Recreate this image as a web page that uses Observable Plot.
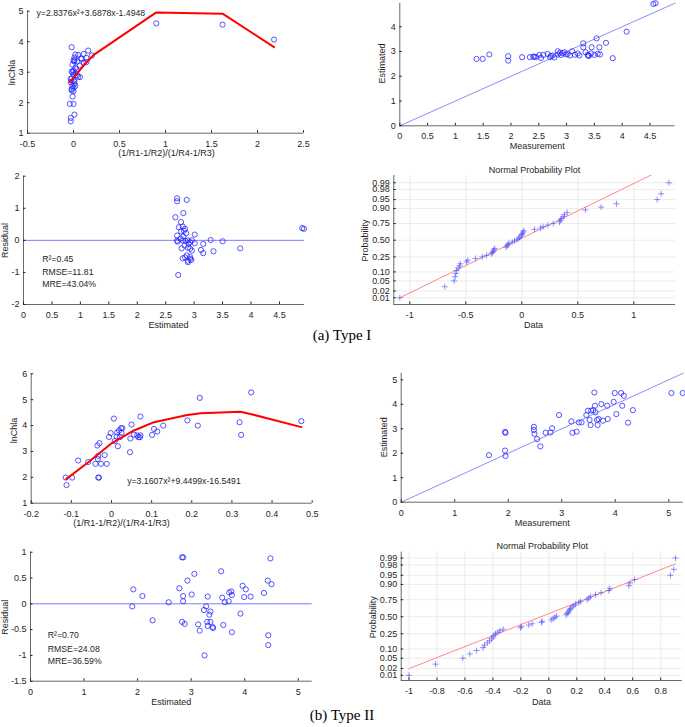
<!DOCTYPE html>
<html><head><meta charset="utf-8">
<script src="https://cdn.jsdelivr.net/npm/d3@7"></script>
<script src="https://cdn.jsdelivr.net/npm/@observablehq/plot@0.6"></script>
<style>
body{margin:0;background:#fff;}
#root{position:relative;width:685px;height:727px;background:#fff;overflow:hidden;}
.cap{position:absolute;font-family:"Liberation Serif","Times New Roman",serif;font-size:15px;color:#000;transform:translate(-50%,-50%);white-space:nowrap;}
</style></head><body><div id="root"></div>
<script>
// ---------- Type I data ----------
const idxI = [-0.02,0.16,0.11,0.02,0.05,0.20,0.14,0.09,0.01,0.00,0.04,0.11,0.14,0.07,0.02,0.00,-0.01,0.02,0.00,0.04,0.07,-0.03,0.00,-0.03,0.01,-0.01,0.00,-0.02,0.00,-0.01,-0.04,0.00,0.01,-0.03,-0.03,0.01,-0.01,0.03,-0.02,0.01,0.02,-0.02,0.08,0.05,-0.02,0.01,0.90,1.62,2.18];
const lnI = [3.82,3.71,3.60,3.58,3.57,3.55,3.47,3.44,3.40,3.38,3.35,3.30,3.33,3.22,3.15,3.05,3.00,2.97,2.92,2.90,2.84,2.78,2.73,2.67,2.62,2.56,2.49,2.40,2.38,2.20,1.96,1.96,1.61,1.50,1.39,3.48,3.25,3.10,2.80,2.70,2.55,2.45,3.45,2.85,3.02,3.35,4.60,4.56,4.07];
const fitIx = [-0.04,0.02,0.11,0.22,0.90,1.62,2.18];
const fitIy = [2.67,2.89,3.22,3.57,4.96,4.92,3.82];
const measI = [1.38,1.49,1.61,1.95,1.95,2.20,2.34,2.40,2.42,2.51,2.54,2.58,2.66,2.70,2.75,2.78,2.84,2.84,2.90,2.93,2.96,2.99,3.02,3.06,3.10,3.20,3.23,3.30,3.30,3.34,3.38,3.39,3.44,3.45,3.50,3.54,3.56,3.59,3.60,3.71,3.83,4.08,4.56,4.60,2.45,2.88,3.40,2.72,3.15];
const estI = [2.70,2.70,2.88,2.81,2.63,2.77,2.77,2.80,2.78,2.86,2.74,2.86,2.90,2.77,2.84,2.76,2.88,3.01,2.86,2.93,2.97,2.88,2.90,2.84,3.01,2.92,2.84,3.33,3.17,2.97,2.86,2.84,2.92,3.17,2.86,3.53,2.91,3.17,2.88,3.35,2.73,3.80,4.92,4.95,2.78,2.95,2.82,2.82,2.87];
const estResI = [2.70,2.70,2.87,2.81,2.67,2.77,2.73,2.80,2.84,2.77,2.86,3.01,2.70,2.81,2.70,2.71,2.80,2.85,2.89,2.93,2.96,3.01,3.16,3.29,3.50,3.81,3.12,3.16,3.34,2.78,2.83,2.89,2.93,2.96,2.80,2.84,2.87,2.89,2.93,2.93,2.95,2.89,2.72,4.90,4.93,2.76,2.90,2.82];
const resI = [1.31,1.22,1.26,0.85,0.72,0.57,0.41,0.43,0.36,0.28,0.22,0.18,0.15,0.12,-0.01,-0.04,0.00,-0.02,0.00,-0.06,0.00,-0.09,-0.11,0.01,-0.03,-0.25,-0.30,-0.40,-0.34,-0.25,-0.16,-0.23,-0.26,-0.32,-0.56,-0.53,-0.47,-0.63,-0.52,-0.58,-0.61,-0.68,-1.08,0.38,0.36,0.05,-0.10,0.30];
const normI = [-1.089,-0.688,-0.604,-0.595,-0.589,-0.583,-0.568,-0.557,-0.548,-0.494,-0.482,-0.414,-0.354,-0.315,-0.271,-0.262,-0.256,-0.250,-0.241,-0.140,-0.131,-0.125,-0.116,-0.086,-0.065,-0.042,-0.027,-0.018,-0.006,0.000,0.006,0.012,0.018,0.113,0.167,0.190,0.232,0.280,0.336,0.345,0.354,0.369,0.381,0.405,0.568,0.708,0.845,1.208,1.244,1.313];
const refIx = [-1.089,1.313];
const refIp = [0.01,0.9986];
const identI = [0,4.95];

// ---------- Type II data ----------
const idxII = [-0.114,-0.112,-0.098,-0.083,-0.058,-0.040,-0.033,-0.031,-0.034,-0.033,-0.035,-0.030,-0.026,-0.017,-0.012,-0.006,-0.002,0.006,0.008,0.013,0.014,0.016,0.019,0.021,0.024,0.025,0.027,0.046,0.047,0.050,0.056,0.064,0.067,0.071,0.072,0.072,0.101,0.106,0.114,0.129,0.189,0.215,0.220,0.319,0.323,0.348,0.473];
const lnII = [1.99,1.70,1.99,2.65,2.59,2.52,1.99,1.99,2.71,2.83,3.23,3.32,2.52,2.86,2.52,3.56,3.71,4.27,3.40,3.58,3.73,3.20,3.81,3.55,3.90,3.72,3.90,2.97,3.50,4.04,3.65,3.62,3.55,3.55,4.35,3.62,3.64,3.87,3.77,4.00,4.20,4.00,5.07,4.13,3.64,5.28,4.17];
const fitIIx = [-0.113,-0.057,-0.002,0.056,0.106,0.189,0.222,0.321,0.346,0.473];
const fitIIy = [1.93,2.59,3.29,3.81,4.13,4.41,4.48,4.53,4.45,3.94];
const measII = [1.64,1.94,1.95,1.94,1.95,2.48,2.48,2.49,2.54,2.60,2.70,2.79,2.82,2.95,3.18,3.20,3.28,3.32,3.37,3.46,3.49,3.52,3.54,3.55,3.59,3.61,3.62,3.63,3.66,3.67,3.69,3.74,3.77,3.85,3.86,3.97,3.99,4.02,4.11,4.13,4.16,4.24,4.33,5.05,5.26];
const estII = [1.92,2.11,1.89,2.87,2.83,3.08,2.95,2.79,2.58,2.28,2.84,2.85,3.02,3.56,3.30,2.84,2.88,3.26,3.26,3.56,3.74,3.36,3.15,3.74,3.76,4.48,3.94,3.67,3.36,3.15,3.40,4.01,3.33,3.94,3.40,4.10,4.46,3.60,4.46,3.94,4.35,3.25,3.76,4.46,4.46];
const estResII = [1.90,1.92,2.09,2.28,2.58,2.78,2.83,2.85,2.85,2.85,2.83,2.88,2.93,3.01,3.06,3.13,3.16,3.24,3.25,3.28,3.31,3.30,3.31,3.34,3.36,3.36,3.40,3.41,3.56,3.58,3.60,3.63,3.70,3.71,3.75,3.76,3.76,3.92,3.96,3.99,4.02,4.11,4.36,4.43,4.44,4.44,4.48,4.50];
const resII = [-0.05,0.28,0.15,-0.32,0.03,0.30,0.90,0.90,0.15,0.05,-0.35,-0.39,0.45,0.18,0.58,-0.40,-0.52,-0.12,-1.00,-0.05,0.14,-0.35,-0.43,-0.21,-0.15,-0.35,-0.45,-0.47,0.63,0.12,-0.41,0.03,0.05,0.22,0.24,0.17,-0.55,-0.19,0.35,0.13,0.28,0.14,0.21,0.45,-0.61,-0.80,0.88,0.38];
const normII = [-1.001,-0.81,-0.615,-0.565,-0.517,-0.47,-0.46,-0.44,-0.424,-0.41,-0.398,-0.393,-0.381,-0.365,-0.35,-0.327,-0.203,-0.196,-0.143,-0.119,-0.052,-0.048,0.017,0.031,0.043,0.055,0.124,0.131,0.138,0.145,0.15,0.155,0.167,0.179,0.191,0.215,0.227,0.274,0.286,0.298,0.334,0.374,0.429,0.436,0.572,0.58,0.613,0.87,0.894,0.906];
const refIIx = [-1.001,0.906];
const refIIp = [0.0197,0.982];
const identII = [0,5.27];

// ---------- tick labels / texts ----------
const probTicks = [0.01,0.02,0.05,0.10,0.25,0.50,0.75,0.90,0.95,0.98,0.99];
const probLabels = ["0.01","0.02","0.05","0.10","0.25","0.50","0.75","0.90","0.95","0.98","0.99"];
const eqI = "y=2.8376x²+3.6878x-1.4948";
const eqII = "y=3.1607x²+9.4499x-16.5491";
const statsI = ["R²=0.45","RMSE=11.81","MRE=43.04%"];
const statsII = ["R²=0.70","RMSE=24.08","MRE=36.59%"];
const xLabelIdx = "(1/R1-1/R2)/(1/R4-1/R3)";

// inverse standard normal CDF (Acklam) for probability-scale positions
function probit(p){
  const a=[-3.969683028665376e+01,2.209460984245205e+02,-2.759285104469687e+02,1.383577518672690e+02,-3.066479806614716e+01,2.506628277459239e+00];
  const b=[-5.447609879822406e+01,1.615858368580409e+02,-1.556989798598866e+02,6.680131188771972e+01,-1.328068155288572e+01];
  const c=[-7.784894002430293e-03,-3.223964580411365e-01,-2.400758277161838e+00,-2.549732539343734e+00,4.374664141464968e+00,2.938163982698783e+00];
  const d=[7.784695709041462e-03,3.224671290700398e-01,2.445134137142996e+00,3.754408661907416e+00];
  const pl=0.02425, ph=1-pl; let q,r;
  if(p<pl){q=Math.sqrt(-2*Math.log(p));return (((((c[0]*q+c[1])*q+c[2])*q+c[3])*q+c[4])*q+c[5])/((((d[0]*q+d[1])*q+d[2])*q+d[3])*q+1);}
  if(p<=ph){q=p-0.5;r=q*q;return (((((a[0]*r+a[1])*r+a[2])*r+a[3])*r+a[4])*r+a[5])*q/(((((b[0]*r+b[1])*r+b[2])*r+b[3])*r+b[4])*r+1);}
  q=Math.sqrt(-2*Math.log(1-p));return -(((((c[0]*q+c[1])*q+c[2])*q+c[3])*q+c[4])*q+c[5])/((((d[0]*q+d[1])*q+d[2])*q+d[3])*q+1);
}
const zTicks = probTicks.map(probit);
const zFmt = d => probLabels[zTicks.findIndex(z => Math.abs(z - d) < 1e-9)];

const FONT = '"Liberation Sans", Arial, Helvetica, sans-serif';
const INK = "#262626", GRID = "#e4e4e4", BLUE = "#1f1fff", BLUEL = "#5a5aff";
const fmt = d => String(+(+d).toFixed(3));
const root = document.getElementById("root");

function panel(c){
  const [bx,by,bw,bh] = c.box, [fx0,fx1,fy0,fy1] = c.frame;
  const T = (t, px, py, o = {}) => Plot.text([t], {text: d => d, frameAnchor: "top-left", dx: px - fx0, dy: py - fy0,
    fill: INK, fontSize: 9, fontFamily: FONT, textAnchor: "middle", lineAnchor: "middle", ...o});
  const marks = [];
  if (c.grid) marks.push(
    Plot.gridX({ticks: c.xticks, stroke: GRID, strokeOpacity: 1, strokeWidth: 0.7}),
    Plot.gridY({ticks: c.yticks, stroke: GRID, strokeOpacity: 1, strokeWidth: 0.7}));
  marks.push(...c.marks(T));
  marks.push(
    Plot.ruleX([c.x[0]], {stroke: INK, strokeWidth: 0.7}),
    Plot.ruleY([c.y[0]], {stroke: INK, strokeWidth: 0.7}),
    Plot.axisX({ticks: c.xticks, tickFormat: fmt, tickSize: -2.5, tickPadding: 9.5, label: null, color: INK, fontSize: 9}),
    Plot.axisY({ticks: c.yticks, tickFormat: c.yfmt || fmt, tickSize: -2.5, tickPadding: 6.5, label: null, color: INK, fontSize: 9}),
    T(c.xlabel[0], c.xlabel[1], c.xlabel[2]),
    T(c.ylabel[0], c.ylabel[1], c.ylabel[2], {rotate: -90}));
  if (c.title) marks.push(T(c.title[0], c.title[1], c.title[2]));
  const svg = Plot.plot({
    width: bw, height: bh,
    marginLeft: fx0 - bx, marginRight: bx + bw - fx1, marginTop: fy0 - by, marginBottom: by + bh - fy1,
    x: {domain: c.x}, y: {domain: c.y},
    style: {fontFamily: FONT, fontSize: "9px", color: INK, background: "transparent", overflow: "visible"},
    marks
  });
  svg.style.position = "absolute"; svg.style.left = bx + "px"; svg.style.top = by + "px";
  root.appendChild(svg);
}
const circles = (xs, ys) => Plot.dot(d3.range(xs.length), {x: i => xs[i], y: i => ys[i], r: 2.6, stroke: BLUE, strokeWidth: 0.75, fill: "none"});
const pluses = (vals) => Plot.dot(vals.map((v, i) => ({x: v, z: probit((i + 0.5) / vals.length)})), {x: "x", y: "z", symbol: "plus", r: 2.1, stroke: "#4a4aff", strokeOpacity: 0.75, strokeWidth: 0.8, fill: "none"});
const refLine = (xs, ps) => Plot.line(xs.map((x, i) => ({x, z: probit(ps[i])})), {x: "x", y: "z", stroke: "#ff6a6a", strokeWidth: 0.8, clip: true});
const ident = (v) => Plot.line(v, {x: d => d, y: d => d, stroke: BLUEL, strokeWidth: 0.7});

// ---- (a) Type I ----
panel({box: [0,0,345,165], frame: [27,303,10.7,132.7], x: [-0.5,2.5], y: [1,5],
  xticks: [-0.5,0,0.5,1,1.5,2,2.5], yticks: [1,2,3,4,5],
  xlabel: [xLabelIdx,166,153], ylabel: ["lnChla",12,72],
  marks: T => [circles(idxI, lnI),
    Plot.line(d3.range(fitIx.length), {x: i => fitIx[i], y: i => fitIy[i], stroke: "#ff0000", strokeWidth: 2}),
    T(eqI, 36, 12.3, {textAnchor: "start", fontSize: 8.7})]});
panel({box: [345,0,340,160], frame: [399.3,674.5,2.7,125.3], x: [0,4.95], y: [0,4.95],
  xticks: [0,0.5,1,1.5,2,2.5,3,3.5,4,4.5], yticks: [0,1,2,3,4],
  xlabel: ["Measurement",536.7,146], ylabel: ["Estimated",381.7,63],
  marks: T => [circles(measI, estI), ident(identI)]});
panel({box: [0,160,345,175], frame: [23,304,175.7,304], x: [0,4.94], y: [-2,2],
  xticks: [0,0.5,1,1.5,2,2.5,3,3.5,4,4.5], yticks: [-2,-1,0,1,2],
  xlabel: ["Estimated",168,325], ylabel: ["Residual",4.5,240],
  marks: T => [Plot.ruleY([0], {stroke: BLUEL, strokeWidth: 0.8}), circles(estResI, resI),
    T(statsI[0], 41.7, 259, {textAnchor: "start", fontSize: 8.7}),
    T(statsI[1], 41.7, 271.7, {textAnchor: "start", fontSize: 8.7}),
    T(statsI[2], 41.7, 284, {textAnchor: "start", fontSize: 8.7})]});
panel({box: [345,160,340,175], frame: [393.3,675,175,304], x: [-1.143,1.372], y: [-2.60,2.62],
  xticks: [-1,-0.5,0,0.5,1], yticks: zTicks, yfmt: zFmt, grid: true,
  xlabel: ["Data",533,324.7], ylabel: ["Probability",365,240], title: ["Normal Probability Plot",534,170],
  marks: T => [refLine(refIx, refIp), pluses(normI)]});

// ---- (b) Type II ----
panel({box: [0,340,345,190], frame: [30.7,311.7,373.3,502.7], x: [-0.2,0.5], y: [1,6],
  xticks: [-0.2,-0.1,0,0.1,0.2,0.3,0.4,0.5], yticks: [1,2,3,4,5,6],
  xlabel: [xLabelIdx,121,522.7], ylabel: ["lnChla",14,430],
  marks: T => [circles(idxII, lnII),
    Plot.line(d3.range(fitIIx.length), {x: i => fitIIx[i], y: i => fitIIy[i], stroke: "#ff0000", strokeWidth: 2}),
    T(eqII, 126.7, 480.7, {textAnchor: "start", fontSize: 8.7})]});
panel({box: [345,340,340,190], frame: [400.7,682.7,372.7,501.7], x: [0,5.27], y: [0,5.27],
  xticks: [0,1,2,3,4,5], yticks: [0,1,2,3,4,5],
  xlabel: ["Measurement",541.7,522.7], ylabel: ["Estimated",384,436.7],
  marks: T => [circles(measII, estII), ident(identII)]});
panel({box: [0,535,345,175], frame: [30,311.7,551.7,680.7], x: [0,5.26], y: [-1.5,1],
  xticks: [0,1,2,3,4,5], yticks: [-1.5,-1,-0.5,0,0.5,1],
  xlabel: ["Estimated",170.7,701.7], ylabel: ["Residual",4.5,616.7],
  marks: T => [Plot.ruleY([0], {stroke: BLUEL, strokeWidth: 0.8}), circles(estResII, resII),
    T(statsII[0], 47.3, 635, {textAnchor: "start", fontSize: 8.7}),
    T(statsII[1], 47.3, 648.3, {textAnchor: "start", fontSize: 8.7}),
    T(statsII[2], 47.3, 661, {textAnchor: "start", fontSize: 8.7})]});
panel({box: [345,535,340,175], frame: [400.7,681.7,551.7,680], x: [-1.056,0.954], y: [-2.53,2.56],
  xticks: [-1,-0.8,-0.6,-0.4,-0.2,0,0.2,0.4,0.6,0.8], yticks: zTicks, yfmt: zFmt, grid: true,
  xlabel: ["Data",541,701.7], ylabel: ["Probability",372.7,616.7], title: ["Normal Probability Plot",541.7,545.7],
  marks: T => [refLine(refIIx, refIIp), pluses(normII)]});

// captions
for (const [t, x, y] of [["(a) Type I", 342, 335], ["(b) Type II", 342, 715]]) {
  const d = document.createElement("div");
  d.className = "cap"; d.textContent = t; d.style.left = x + "px"; d.style.top = y + "px";
  root.appendChild(d);
}
</script></body></html>
